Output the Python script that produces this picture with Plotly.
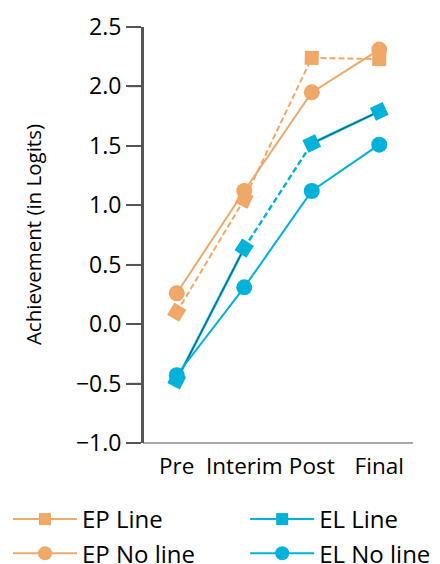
import math
import plotly.graph_objects as go

# Data
stages = ['Pre', 'Interim', 'Post', 'Final']
ep_line = [0.10, 1.05, 2.24, 2.23]
ep_no_line = [0.26, 1.12, 1.95, 2.31]
el_line = [-0.47, 0.64, 1.52, 1.79]
el_no_line = [-0.43, 0.31, 1.12, 1.51]
y_ticks = [-1.0, -0.5, 0.0, 0.5, 1.0, 1.5, 2.0, 2.5]

orange = '#F0A868'
blue = '#00B1D9'
axis_grey = '#555555'
font_family = 'Open Sans, Noto Sans, sans-serif'

# pixel scale of the plot area, used to tilt the squares along their line
PX_PER_STAGE = 67.5
PX_PER_UNIT = 118.9
PLOT_WIDTH = 270
TICK_LEN = 15


def square_angles(vals):
    """Rotate each square to follow the outgoing segment (last one: incoming)."""
    out = []
    for i in range(len(vals)):
        j = i if i < len(vals) - 1 else i - 1
        theta = math.degrees(math.atan2((vals[j + 1] - vals[j]) * PX_PER_UNIT, PX_PER_STAGE))
        out.append(-theta)
    return out


fig = go.Figure()

# EP Line: dashed orange with squares
fig.add_trace(go.Scatter(
    x=stages, y=ep_line, mode='lines+markers', showlegend=False,
    line=dict(color=orange, width=2, dash='6px,3px'),
    marker=dict(symbol='square', size=14, color=orange, angle=square_angles(ep_line))
))

# EL Line: dashed between Interim and Post, solid elsewhere
fig.add_trace(go.Scatter(
    x=stages[1:3], y=el_line[1:3], mode='lines', showlegend=False,
    line=dict(color=blue, width=2.4, dash='6px,3px'), hoverinfo='skip'
))
for seg in (slice(0, 2), slice(2, 4)):
    fig.add_trace(go.Scatter(
        x=stages[seg], y=el_line[seg], mode='lines', showlegend=False,
        line=dict(color=blue, width=2.6), hoverinfo='skip'
    ))
    fig.add_trace(go.Scatter(
        x=stages[seg], y=el_line[seg], mode='lines', showlegend=False,
        line=dict(color='#1a1a1a', width=0.6), hoverinfo='skip'
    ))
fig.add_trace(go.Scatter(
    x=stages, y=el_line, mode='markers', showlegend=False,
    marker=dict(symbol='square', size=14, color=blue, angle=square_angles(el_line))
))

fig.add_trace(go.Scatter(
    x=stages, y=ep_no_line, mode='lines+markers', showlegend=False,
    line=dict(color=orange, width=2),
    marker=dict(symbol='circle', size=16, color=orange)
))

fig.add_trace(go.Scatter(
    x=stages, y=el_no_line, mode='lines+markers', showlegend=False,
    line=dict(color=blue, width=2),
    marker=dict(symbol='circle', size=16, color=blue)
))

# legend entries (solid line + marker, as in the reference key)
legend_items = [('EP Line', orange, 'square', 12, 'legend'),
                ('EP No line', orange, 'circle', 14, 'legend'),
                ('EL Line', blue, 'square', 12, 'legend2'),
                ('EL No line', blue, 'circle', 14, 'legend2')]
for name, color, symbol, size, leg in legend_items:
    fig.add_trace(go.Scatter(
        x=[None], y=[None], mode='lines+markers', name=name, legend=leg,
        line=dict(color=color, width=2),
        marker=dict(symbol=symbol, size=size, color=color)
    ))

legend_style = dict(
    orientation='v', xref='container', yref='container',
    y=0.1205, xanchor='left', yanchor='top',
    font=dict(family=font_family, size=24, color='black'),
    traceorder='normal', itemwidth=64, tracegroupgap=0,
    bgcolor='rgba(0,0,0,0)'
)

# axis frame: thin baseline, y axis line and outside ticks
frame = [
    dict(type='line', xref='paper', yref='paper', x0=0, x1=1, y0=0, y1=0,
         line=dict(color=axis_grey, width=1), layer='above'),
    dict(type='line', xref='paper', yref='paper', x0=0, x1=0, y0=0, y1=1,
         line=dict(color=axis_grey, width=2), layer='above'),
]
for t in y_ticks:
    frame.append(dict(
        type='line', xref='paper', yref='y', x0=-TICK_LEN / PLOT_WIDTH, x1=0, y0=t, y1=t,
        line=dict(color=axis_grey, width=1.5), layer='above'
    ))

fig.update_layout(
    width=432, height=556,
    margin=dict(l=135, r=27, t=19, b=121, autoexpand=False),
    paper_bgcolor='white', plot_bgcolor='white',
    font=dict(family=font_family, size=20, color='black'),
    showlegend=True,
    legend=dict(x=0.0, **legend_style),
    legend2=dict(x=0.549, **legend_style),
    annotations=[dict(
        text='Achievement (in Logits)', textangle=-90,
        xref='paper', yref='paper', x=-0.407, y=0.5,
        xanchor='center', yanchor='middle', showarrow=False,
        font=dict(size=20.5)
    )],
    shapes=frame,
)

fig.update_xaxes(
    type='category', range=[-0.5, 3.5],
    showline=False, showgrid=False, ticks='', zeroline=False, tickangle=0,
    tickfont=dict(size=22.5), ticklabelstandoff=7, automargin=False
)
fig.update_yaxes(
    range=[-1.0, 2.5], tickvals=y_ticks, tickformat='.1f', ticksuffix='\u2009\u2009',
    showline=True, linecolor=axis_grey, linewidth=2,
    ticks='outside', ticklen=TICK_LEN, tickcolor=axis_grey, tickwidth=1.5,
    showgrid=False, zeroline=False, automargin=False,
    tickfont=dict(size=23)
)

fig.write_html('out.html')
